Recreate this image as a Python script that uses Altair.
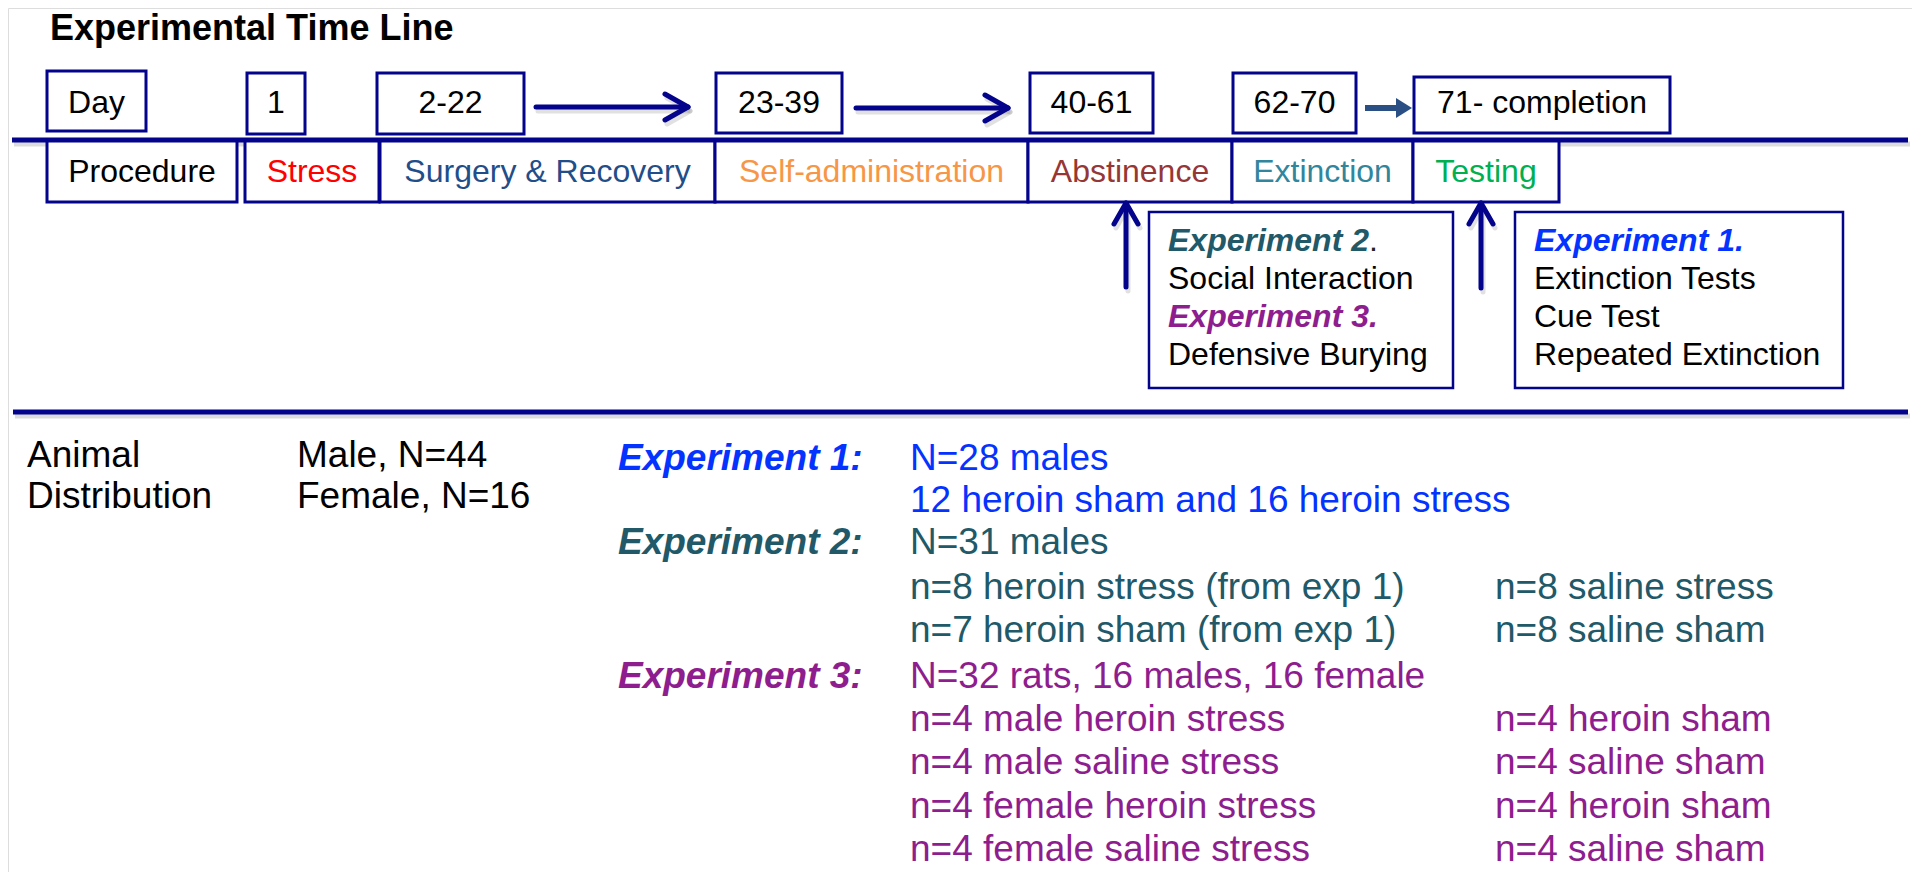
import altair as alt
import pandas as pd

# ---------------- content ----------------
TITLE = "Experimental Time Line"

day_labels = ["Day", "1", "2-22", "23-39", "40-61", "62-70", "71- completion"]
procedure_labels = ["Procedure", "Stress", "Surgery & Recovery", "Self-administration",
                    "Abstinence", "Extinction", "Testing"]
procedure_colors = ["#000000", "#FF0000", "#1F4E8A", "#F79646", "#953735", "#31859C", "#00B050"]

exp23_lines = ["Experiment 2", "Social Interaction", "Experiment 3.", "Defensive Burying"]
exp23_colors = ["#215968", "#000000", "#8E1D8E", "#000000"]
exp23_bold = [True, False, True, False]
exp1_lines = ["Experiment 1.", "Extinction Tests", "Cue Test", "Repeated Extinction"]
exp1_colors = ["#0433FF", "#000000", "#000000", "#000000"]
exp1_bold = [True, False, False, False]

animal_lines = ["Animal", "Distribution"]
sex_lines = ["Male, N=44", "Female, N=16"]

exp_labels = ["Experiment 1:", "Experiment 2:", "Experiment 3:"]
exp_label_colors = ["#0433FF", "#215968", "#8E1D8E"]

col1_lines = ["N=28 males", "12 heroin sham and 16 heroin stress", "N=31 males",
              "n=8 heroin stress (from exp 1)", "n=7 heroin sham (from exp 1)",
              "N=32 rats, 16 males, 16 female", "n=4 male heroin stress",
              "n=4 male saline stress", "n=4 female heroin stress", "n=4 female saline stress"]
col1_colors = ["#0433FF", "#0433FF", "#215968", "#215968", "#215968",
               "#8E1D8E", "#8E1D8E", "#8E1D8E", "#8E1D8E", "#8E1D8E"]
col2_lines = ["n=8 saline stress", "n=8 saline sham", "n=4 heroin sham",
              "n=4 saline sham", "n=4 heroin sham", "n=4 saline sham"]
col2_colors = ["#215968", "#215968", "#8E1D8E", "#8E1D8E", "#8E1D8E", "#8E1D8E"]

# ---------------- layout (page pixel space) ----------------
title_x, title_y = 50, 40

day_x0 = [47, 247, 377, 716, 1030, 1233, 1414]
day_x1 = [146, 305, 524, 842, 1153, 1356, 1670]
day_y0 = [71, 73, 73, 73, 73, 73, 77]
day_y1 = [131, 134, 134, 133, 133, 133, 133]
day_text_y = 113

proc_x0 = [47, 245, 380, 715, 1028, 1232, 1413]
proc_x1 = [237, 379, 715, 1028, 1232, 1413, 1559]
proc_y0, proc_y1, proc_text_y = 140, 202, 182

arrow_x0 = [536, 856]
arrow_x1 = [688, 1008]
arrow_y = [107, 108]
small_arrow = dict(x0=1365, x1=1412, y=108)
up_arrow_x = [1126, 1481]
up_arrow_y0 = [287, 288]
up_arrow_y1 = [203, 203]

hline_y = [140, 412]
hline_x0 = [12, 13]
hline_x1 = [1908, 1908]

exp_boxes_x0 = [1149, 1515]
exp_boxes_x1 = [1453, 1843]
exp_box_y0, exp_box_y1 = 212, 388
exp23_x, exp1_x = 1168, 1534
box_line_y = [251, 289, 327, 365]

animal_x, sex_x, exp_label_x, col1_x, col2_x = 27, 297, 618, 910, 1495
animal_y = [467, 508]
exp_label_y = [470, 554, 688]
col1_y = [470, 512, 554, 599, 642, 688, 731, 774, 818, 861]
col2_y = [599, 642, 731, 774, 818, 861]

NAVY = "#03038C"
FONT = "Liberation Sans"

xs = alt.Scale(domain=[8, 1912], nice=False, zero=False)
ys = alt.Scale(domain=[8, 872], nice=False, zero=False, reverse=True)


def X(f="x"):
    return alt.X(f"{f}:Q", scale=xs, axis=None)


def Y(f="y"):
    return alt.Y(f"{f}:Q", scale=ys, axis=None)


def rects(df, stroke=NAVY, sw=3):
    return alt.Chart(df).mark_rect(fill="white", stroke=stroke, strokeWidth=sw).encode(
        x=X("x0"), x2="x1", y=Y("y0"), y2="y1")


def rules(df, color=NAVY, sw=5, opacity=1.0, cap="butt"):
    return alt.Chart(df).mark_rule(color=color, strokeWidth=sw, opacity=opacity, strokeCap=cap).encode(
        x=X("x0"), x2="x1", y=Y("y0"), y2="y1")


def texts(df, size, weight="normal", style="normal", align="left"):
    return alt.Chart(df).mark_text(font=FONT, fontSize=size, fontWeight=weight, fontStyle=style,
                                   align=align, baseline="alphabetic").encode(
        x=X(), y=Y(), text="t:N", color=alt.Color("c:N", scale=None))


layers = []

# shadows of the horizontal lines
shadow = pd.DataFrame({"x0": [x + 2 for x in hline_x0], "x1": [x + 2 for x in hline_x1],
                       "y0": [y + 4 for y in hline_y], "y1": [y + 4 for y in hline_y]})
layers.append(rules(shadow, color="#9a9a9a", sw=5, opacity=0.35))

# day boxes
layers.append(rects(pd.DataFrame({"x0": day_x0, "x1": day_x1, "y0": day_y0, "y1": day_y1})))
# procedure boxes
layers.append(rects(pd.DataFrame({"x0": proc_x0, "x1": proc_x1,
                                  "y0": [proc_y0] * 7, "y1": [proc_y1] * 7})))
# experiment boxes
layers.append(rects(pd.DataFrame({"x0": exp_boxes_x0, "x1": exp_boxes_x1,
                                  "y0": [exp_box_y0] * 2, "y1": [exp_box_y1] * 2}), sw=2.5))

# horizontal separator lines
layers.append(rules(pd.DataFrame({"x0": hline_x0, "x1": hline_x1, "y0": hline_y, "y1": hline_y}), sw=5))

# right-pointing arrows (shaft + chevron head)
seg = {"x0": [], "x1": [], "y0": [], "y1": []}
for a, b, y in zip(arrow_x0, arrow_x1, arrow_y):
    for (p, q, r, s) in [(a, b - 2, y, y), (b, b - 23, y, y - 13), (b, b - 23, y, y + 13)]:
        seg["x0"].append(p); seg["x1"].append(q); seg["y0"].append(r); seg["y1"].append(s)
# up arrows
for x, y0, y1 in zip(up_arrow_x, up_arrow_y0, up_arrow_y1):
    for (p, q, r, s) in [(x, x, y0, y1 + 2), (x, x - 12, y1, y1 + 21), (x, x + 12, y1, y1 + 21)]:
        seg["x0"].append(p); seg["x1"].append(q); seg["y0"].append(r); seg["y1"].append(s)
seg_df = pd.DataFrame(seg)
shadow_seg = seg_df.copy()
shadow_seg[["x0", "x1"]] += 2
shadow_seg[["y0", "y1"]] += 4
layers.insert(1, rules(shadow_seg, color="#9a9a9a", sw=5, opacity=0.3, cap="round"))
layers.append(rules(seg_df, sw=5, cap="round"))

# small steel-blue arrow
SMALL = "#2A4F85"
layers.append(rules(pd.DataFrame({"x0": [small_arrow["x0"]], "x1": [small_arrow["x1"] - 12],
                                  "y0": [small_arrow["y"]], "y1": [small_arrow["y"]]}), color=SMALL, sw=6))
layers.append(alt.Chart(pd.DataFrame({"x": [small_arrow["x1"] - 8], "y": [small_arrow["y"]]})).mark_point(
    shape="M -0.8 -1 L 0.8 0 L -0.8 1 Z", size=400, filled=True, color=SMALL, opacity=1,
    strokeWidth=0).encode(x=X(), y=Y()))

# title
layers.append(texts(pd.DataFrame({"x": [title_x], "y": [title_y], "t": [TITLE], "c": ["#000000"]}),
                    36, weight="bold"))

# day labels
layers.append(texts(pd.DataFrame({"x": [(a + b) / 2 for a, b in zip(day_x0, day_x1)],
                                  "y": [day_text_y] * 7, "t": day_labels, "c": ["#000000"] * 7}),
                    32, align="center"))
# procedure labels
layers.append(texts(pd.DataFrame({"x": [(a + b) / 2 for a, b in zip(proc_x0, proc_x1)],
                                  "y": [proc_text_y] * 7, "t": procedure_labels, "c": procedure_colors}),
                    32, align="center"))

# experiment boxes text
for bx, lines, cols, bold in [(exp23_x, exp23_lines, exp23_colors, exp23_bold),
                              (exp1_x, exp1_lines, exp1_colors, exp1_bold)]:
    df = pd.DataFrame({"x": [bx] * 4, "y": box_line_y, "t": lines, "c": cols, "b": bold})
    layers.append(texts(df[df.b].drop(columns="b"), 32, weight="bold", style="italic"))
    layers.append(texts(df[~df.b].drop(columns="b"), 32))
# trailing period after "Experiment 2"
layers.append(texts(pd.DataFrame({"x": [exp23_x + 201], "y": [box_line_y[0]], "t": ["."],
                                  "c": ["#222222"]}), 32))

# bottom section
layers.append(texts(pd.DataFrame({"x": [animal_x] * 2, "y": animal_y, "t": animal_lines,
                                  "c": ["#000000"] * 2}), 37))
layers.append(texts(pd.DataFrame({"x": [sex_x] * 2, "y": animal_y, "t": sex_lines,
                                  "c": ["#000000"] * 2}), 37))
layers.append(texts(pd.DataFrame({"x": [exp_label_x] * 3, "y": exp_label_y, "t": exp_labels,
                                  "c": exp_label_colors}), 37, weight="bold", style="italic"))
layers.append(texts(pd.DataFrame({"x": [col1_x] * len(col1_lines), "y": col1_y, "t": col1_lines,
                                  "c": col1_colors}), 37))
layers.append(texts(pd.DataFrame({"x": [col2_x] * len(col2_lines), "y": col2_y, "t": col2_lines,
                                  "c": col2_colors}), 37))

chart = alt.layer(*layers).properties(
    width=1904, height=864, padding=0, autosize=alt.AutoSizeParams(type="none")
).configure_view(stroke=None).configure(background="white")

chart.save("out.html", embed_options={"renderer": "svg", "actions": False})
